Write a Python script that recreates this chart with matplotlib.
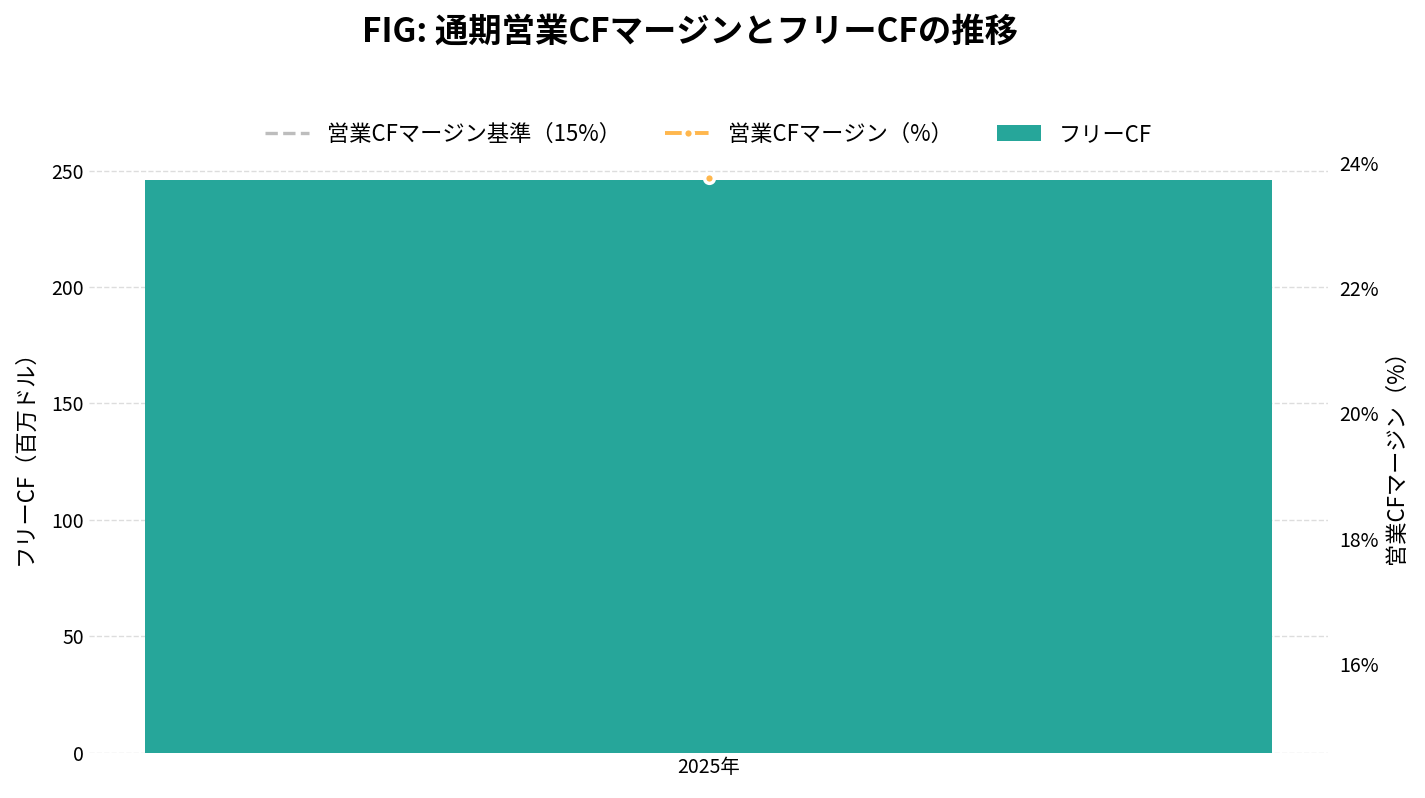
import matplotlib.pyplot as plt
import matplotlib.ticker as mticker

plt.rcParams['font.family'] = ['Noto Sans CJK JP', 'DejaVu Sans']

# データ
years = ["2025年"]
free_cf = [246.1]          # 百万ドル
op_cf_margin = [23.75]     # %
margin_base = [15.0]       # 基準 %

fig, ax1 = plt.subplots(figsize=(14.25, 7.98), dpi=100)
fig.subplots_adjust(left=0.0625, right=0.932, top=0.811, bottom=0.057)

x = list(range(len(years)))
bars = ax1.bar(x, free_cf, width=0.6, color="#26A69A", label="フリーCF", zorder=2)
ax1.set_ylim(0, 258.5)
ax1.set_ylabel("フリーCF（百万ドル）", fontsize=16, labelpad=11)
ax1.set_xticks(x)
ax1.set_xticklabels(years)
ax1.tick_params(axis="both", length=0, labelsize=14)
ax1.grid(axis="y", linestyle="--", color="#DDDDDD", linewidth=1, zorder=0)
ax1.set_axisbelow(True)
for s in ax1.spines.values():
    s.set_visible(False)

ax2 = ax1.twinx()
base_line, = ax2.plot(x, margin_base, linestyle="--", color="#BDBDBD", linewidth=2.4,
                      label="営業CFマージン基準（15%）")
margin_line, = ax2.plot(x, op_cf_margin, color="#FFB74D", linewidth=2.8,
                        dashes=(4.3, 1.0, 0.6, 1.0),
                        marker="o", markersize=7, markeredgecolor="white", markeredgewidth=2.5,
                        label="営業CFマージン（%）", zorder=3)
ax2.set_ylim(14.59, 24.19)
ax2.set_yticks([16, 18, 20, 22, 24])
ax2.yaxis.set_major_formatter(mticker.FuncFormatter(lambda v, p: f"{v:.0f}%"))
ax2.set_ylabel("営業CFマージン（%）", fontsize=16)
ax2.tick_params(axis="y", length=0, labelsize=14, pad=8)
for s in ax2.spines.values():
    s.set_visible(False)

ax1.legend([base_line, margin_line, bars[0]],
           ["営業CFマージン基準（15%）", "営業CFマージン（%）", "フリーCF"],
           loc="lower center", bbox_to_anchor=(0.5, 0.975), ncol=3, frameon=False,
           fontsize=16, columnspacing=2.0)

fig.suptitle("FIG: 通期営業CFマージンとフリーCFの推移", fontsize=24, fontweight="bold",
             x=0.484, y=0.98)

plt.savefig("out.png", dpi=100)
